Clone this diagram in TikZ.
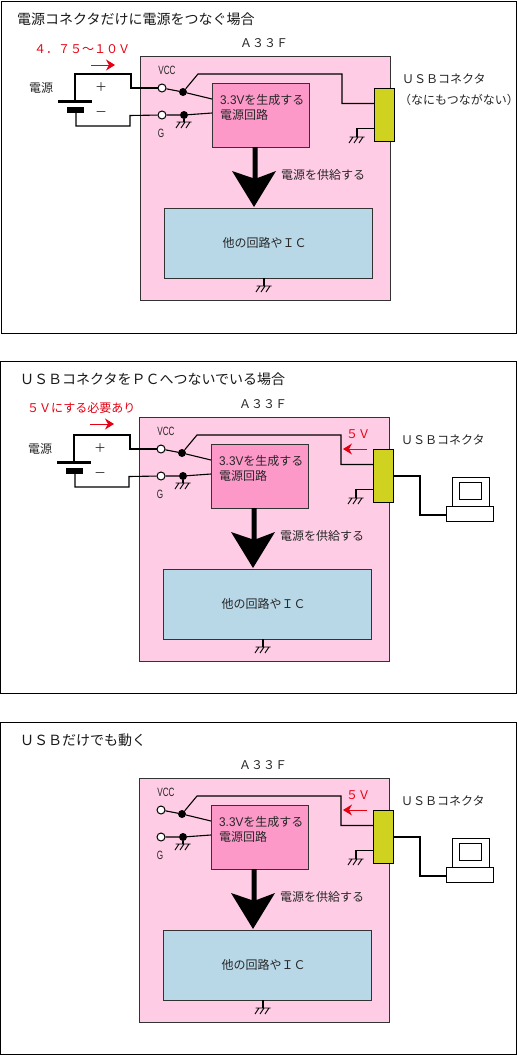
\documentclass[tikz,border=0pt]{standalone}
\usepackage{fontspec}
\setmainfont{Noto Sans CJK JP}
\newfontfamily\latinf{Liberation Sans}
\usepackage{graphicx}
\definecolor{outerpink}{HTML}{FFCCE5}
\definecolor{boxpink}{HTML}{FC99C9}
\definecolor{boxblue}{HTML}{B8D8E8}
\definecolor{usbolive}{HTML}{CFD21F}
\definecolor{redtx}{HTML}{E60012}
\usetikzlibrary{arrows.meta}
\tikzset{
  frame/.style={draw=black,line width=1pt,fill=white},
  chip/.style={draw=black!80,line width=1pt,anchor=north west,inner sep=0pt,outer sep=0pt},
  wire/.style={draw=black,line width=1.1pt},
  term/.style={circle,draw=black,line width=1pt,fill=white,minimum size=8pt,inner sep=0pt},
  junction/.style={circle,fill=black,minimum size=8pt,inner sep=0pt},
  lbl/.style={font=\fontsize{12}{12}\selectfont,text=black!85,inner sep=0pt},
  titlelbl/.style={font=\fontsize{14}{14}\selectfont,text=black!90,anchor=west,inner sep=0pt},
  narrowlbl/.style={font=\latinf\fontsize{12}{12}\selectfont,text=black!85,inner sep=0pt},
  redlbl/.style={font=\fontsize{12}{12}\selectfont,text=redtx,inner sep=0pt},
  redarrow/.style={draw=redtx,line width=1pt,-{Stealth[length=9pt,width=11pt]}},
}
% ground symbol hanging under a named coordinate
\newcommand{\gndsym}[1]{%
  \draw[line width=0.9pt] (#1) ++(-7.5,0) -- ++(15,0)
    (#1) ++(-4,0) -- ++(-4,6) (#1) ++(1,0) -- ++(-4,6) (#1) ++(6,0) -- ++(-4,6);}
% the board common to all three panels
\newcommand{\board}{%
  \node[chip,fill=outerpink,minimum width=250pt,minimum height=244pt] (pcb) at (140,56) {};
  \node[chip,fill=boxpink,minimum width=97pt,minimum height=64pt] (reg) at (212,83) {};
  \node[chip,fill=boxblue,minimum width=208pt,minimum height=70pt] (ic) at (164,208) {};
  \node[lbl,anchor=west] (reglabA) at (220,100) {\scalebox{0.98}[1.05]{\latinf 3.3V}を生成する};
  \node[lbl,anchor=west] (reglabB) at (220,115) {電源回路};
  \node[lbl] (iclab) at (264.5,243) {他の回路やＩＣ};
  \node[lbl,anchor=west] (feed) at (281,175) {電源を供給する};
  \node[lbl] (name) at (264,43) {Ａ３３Ｆ};
  \node[narrowlbl] (vcclab) at (167,70) {\scalebox{0.68}[1]{VCC}};
  \node[narrowlbl] (glab) at (161,133) {\scalebox{0.68}[1]{G}};
  \node[term] (vcc) at (162,88) {};
  \node[term] (g) at (162,115) {};
  \node[junction] (jv) at (183,92) {};
  \node[junction] (jg) at (184,115) {};
  \coordinate (regv) at (212,99);
  \coordinate (regg) at (212,113);
  \coordinate (bend) at (198,74);
  \coordinate (usbtop) at (342,74);
  \node[chip,fill=usbolive,draw=black,minimum width=20pt,minimum height=53pt] (usb) at (374.5,88.5) {};
  \coordinate (usbin) at (342,103.5);
  \coordinate (usbg) at (357,128.5);
  \coordinate (usbgb) at (357,137);
  \coordinate (gga) at (184,122);
  \coordinate (icg) at (264,286);
  \draw[wire] (vcc) -- (jv) -- (regv);
  \draw[wire] (g) -- (jg) -- (regg);
  \draw[wire] (jv) -- (bend) -- (usbtop) -- (usbin) -- (usbin -| usb.west);
  \draw[wire] (usbg -| usb.west) -- (usbg) -- (usbgb);
  \draw[wire] (jg) -- (gga);
  \draw[wire] (ic.south -| icg) -- (icg);
  \gndsym{gga}\gndsym{usbgb}\gndsym{icg}
  \coordinate (archead) at (254,207);
  \fill[black] (252.5,147) -- (257.5,147) -- (257.5,178) -- (276,171) -- (archead) -- (232,171) -- (252.5,178) -- cycle;
}
\newcommand{\battery}[1]{%
  \coordinate (batplus) at (75,101);
  \coordinate (batminus) at (76,113);
  \coordinate (wtl) at (75,74);
  \coordinate (wtr) at (131,74);
  \coordinate (wtd) at (131,88);
  \coordinate (wbl) at (76,126);
  \coordinate (wbr) at (130,126);
  \coordinate (wbu) at (130,115.5);
  \draw[line width=3pt] (58,101) -- (92,101);
  \draw[line width=5.5pt] (67,110) -- (84,110);
  \draw[wire] (batplus) -- (wtl) -- (wtr) -- (wtd) -- (vcc);
  \draw[wire] (batminus) -- (wbl) -- (wbr) -- (wbu) -- (g);
  \node[lbl] (plus) at (101,87) {＋};
  \node[lbl] (minus) at (101,114) {－};
  \node[lbl] (srclab) at (#1,88) {電源};
}
\newcommand{\pcset}{%
  \coordinate (pa) at (421,115);
  \coordinate (pb) at (421,154);
  \node[chip,fill=white,draw=black,minimum width=37pt,minimum height=29pt] (mon) at (453,116) {};
  \node[chip,fill=white,draw=black,minimum width=22pt,minimum height=17pt] (scr) at (460,121) {};
  \node[chip,fill=white,draw=black,minimum width=47pt,minimum height=15pt] (kbd) at (447,145) {};
  \draw[wire] (pa -| usb.east) -- (pa) -- (pb) -- (pb -| kbd.west);
  \node[lbl,anchor=west] (usblab) at (402,79) {ＵＳＢコネクタ};
  \node[redlbl] (fivev) at (359,73) {５Ｖ};
  \coordinate (fa) at (368,88);
  \coordinate (fb) at (344,88);
  \draw[redarrow] (fa) -- (fb);
}
\begin{document}
\begin{tikzpicture}[x=1pt,y=-1pt]
\useasboundingbox (0,0) rectangle (519,1055);
\fill[white] (0,0) rectangle (519,1055);
% panel 1
\begin{scope}[name prefix=a-]
  \node[frame,anchor=north west,minimum width=515pt,minimum height=332pt,inner sep=0pt] (panel) at (1,1) {};
  \node[titlelbl] (title) at (17,19) {電源コネクタだけに電源をつなぐ場合};
  \board
  \battery{41}
  \node[redlbl,anchor=west] (volts) at (34,49) {４．７５～１０Ｖ};
  \coordinate (ra) at (91,65);
  \coordinate (rb) at (115,65);
  \draw[redarrow] (ra) -- (rb);
  \node[lbl,anchor=west] (usblab) at (402,79) {ＵＳＢコネクタ};
  \node[lbl] (nc) at (459,100) {（なにもつながない）};
\end{scope}
% panel 2
\begin{scope}[shift={(-1,361)},name prefix=b-]
  \node[frame,anchor=north west,minimum width=516pt,minimum height=332pt,inner sep=0pt] (panel) at (1,0) {};
  \node[titlelbl] (title) at (21,18) {ＵＳＢコネクタをＰＣへつないでいる場合};
  \board
  \battery{41}
  \node[redlbl,anchor=west] (volts) at (28,47) {５Ｖにする必要あり};
  \coordinate (ra) at (91,63);
  \coordinate (rb) at (115,63);
  \draw[redarrow] (ra) -- (rb);
  \pcset
\end{scope}
% panel 3
\begin{scope}[shift={(-1,722)},name prefix=c-]
  \node[frame,anchor=north west,minimum width=516pt,minimum height=332pt,inner sep=0pt] (panel) at (1,0) {};
  \node[titlelbl] (title) at (21,18) {ＵＳＢだけでも動く};
  \board
  \pcset
\end{scope}
\end{tikzpicture}
\end{document}
